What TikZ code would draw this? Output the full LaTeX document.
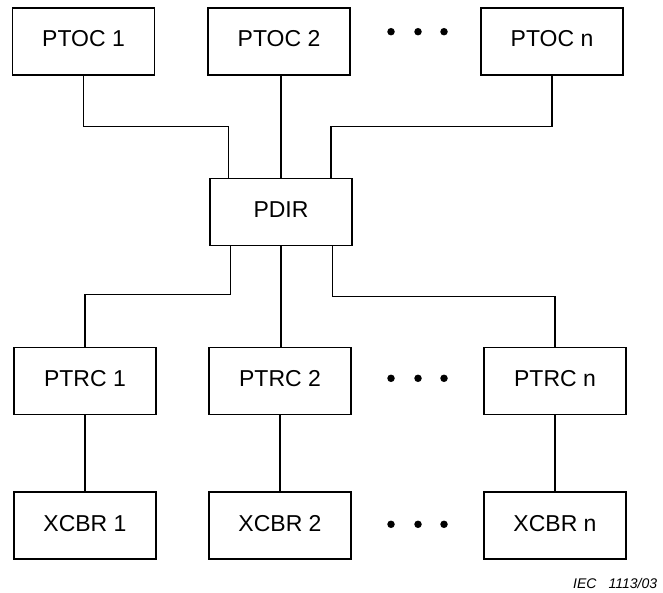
\documentclass[tikz,border=0pt]{standalone}
\usepackage{fontspec}
\setmainfont{Liberation Sans}
\usetikzlibrary{calc}
\tikzset{
  lnbox/.style={draw, line width=1.2pt, rectangle, minimum width=142pt, minimum height=67pt,
    inner sep=0pt, font=\fontsize{23}{27}\selectfont, text height=17pt, text depth=6pt},
  conn/.style={line width=1.2pt},
  dotmark/.style={circle, fill, inner sep=0pt, minimum size=7.5pt}
}
\begin{document}
\begin{tikzpicture}[x=1pt,y=-1pt]
\useasboundingbox (0,0) rectangle (663,593);
% top row
\node[lnbox] (ptoc1) at (83.5,41.5) {PTOC 1};
\node[lnbox] (ptoc2) at (279,41.5) {PTOC 2};
\node[lnbox] (ptocn) at (552,41.5) {PTOC n};
\node[dotmark] (d11) at (391,31.7) {};
\node[dotmark] (d12) at (418,31.7) {};
\node[dotmark] (d13) at (444,31.7) {};
% PDIR
\node[lnbox] (pdir) at (281,212) {PDIR};
% middle row
\node[lnbox] (ptrc1) at (85,381) {PTRC 1};
\node[lnbox] (ptrc2) at (280,381) {PTRC 2};
\node[lnbox] (ptrcn) at (555,381) {PTRC n};
\node[dotmark] (d21) at (391,378.3) {};
\node[dotmark] (d22) at (418,378.3) {};
\node[dotmark] (d23) at (444,378.3) {};
% bottom row
\node[lnbox] (xcbr1) at (85,525.5) {XCBR 1};
\node[lnbox] (xcbr2) at (280,525.5) {XCBR 2};
\node[lnbox] (xcbrn) at (555,525.5) {XCBR n};
\node[dotmark] (d31) at (391,524.3) {};
\node[dotmark] (d32) at (418,524.3) {};
\node[dotmark] (d33) at (444,524.3) {};
% connection points on PDIR
\coordinate (pdirIn1) at ($(pdir.north west)+(19.3,0)$);
\coordinate (pdirIn3) at ($(pdir.north east)+(-21.7,0)$);
\coordinate (pdirOut1) at ($(pdir.south west)+(21,0)$);
\coordinate (pdirOut3) at ($(pdir.south east)+(-20,0)$);
% connectors
\draw[conn] (ptoc1.south) -- ++(0,51) -| (pdirIn1);
\draw[conn] (pdir.north) -- (pdir.north |- ptoc2.south);
\draw[conn] (ptocn.south) -- ++(0,51) -| (pdirIn3);
\draw[conn] (pdirOut1) -- ++(0,48) -| (ptrc1.north);
\draw[conn] (pdir.south) -- (pdir.south |- ptrc2.north);
\draw[conn] (pdirOut3) -- ++(0,50.5) -| (ptrcn.north);
\draw[conn] (ptrc1.south) -- (xcbr1.north);
\draw[conn] (ptrc2.south) -- (xcbr2.north);
\draw[conn] (ptrcn.south) -- (xcbrn.north);
% label
\node[anchor=base west, inner sep=0pt, font=\fontsize{14}{16}\selectfont\itshape] (iec) at (573,588) {IEC\hspace{12pt}1113/03};
\end{tikzpicture}
\end{document}
